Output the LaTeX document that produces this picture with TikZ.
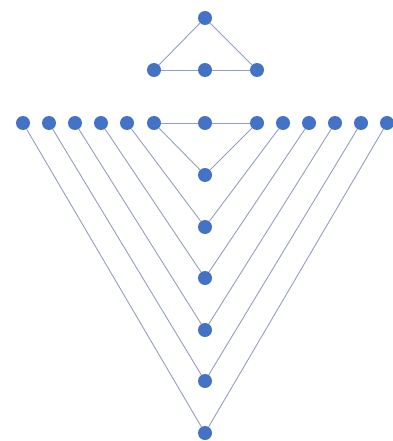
\documentclass[tikz,border=0pt]{standalone}
\definecolor{dotblue}{HTML}{4472C4}
\definecolor{linegray}{HTML}{94A0BA}
\begin{document}
\begin{tikzpicture}[x=1pt,y=-1pt,
  dot/.style={circle,fill=dotblue,draw=none,inner sep=0pt,minimum size=14pt},
  edge/.style={draw=linegray,line width=0.9pt}]
\useasboundingbox (0,0) rectangle (392,441);
% top triangle
\node[dot] (t0) at (205,18) {};
\node[dot] (t1) at (154,70) {};
\node[dot] (t2) at (205,70) {};
\node[dot] (t3) at (257,70) {};
\draw[edge] (t0) -- (t1);
\draw[edge] (t0) -- (t3);
\draw[edge] (t1) -- (t2) -- (t3);
% top row
\foreach \i/\x in {1/23,2/49,3/75,4/101,5/127,6/154,7/205,8/257,9/283,10/309,11/335,12/361,13/387}
  \node[dot] (r\i) at (\x,123) {};
% vertical column
\foreach \i/\y in {1/175,2/227,3/278,4/330,5/381,6/433}
  \node[dot] (v\i) at (205,\y) {};
\draw[edge] (r6) -- (r7) -- (r8);
\draw[edge] (r6) -- (v1) -- (r8);
\draw[edge] (r5) -- (v2) -- (r9);
\draw[edge] (r4) -- (v3) -- (r10);
\draw[edge] (r3) -- (v4) -- (r11);
\draw[edge] (r2) -- (v5) -- (r12);
\draw[edge] (r1) -- (v6) -- (r13);
\end{tikzpicture}
\end{document}
